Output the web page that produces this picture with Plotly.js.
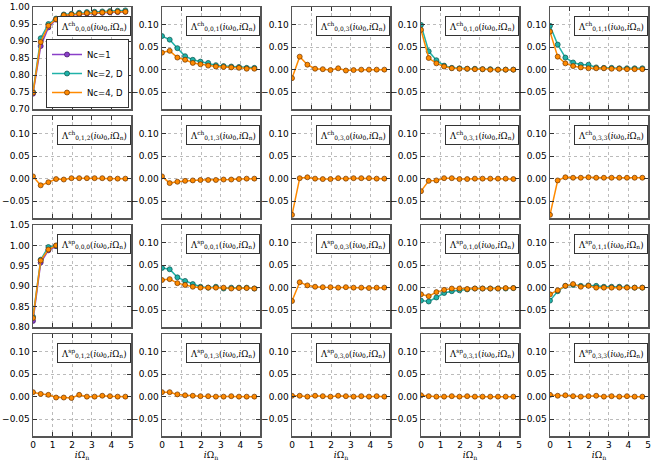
<!DOCTYPE html>
<html>
<head>
<meta charset="utf-8">
<script src="https://cdn.plot.ly/plotly-3.0.1.min.js"></script>
<style>html,body{margin:0;padding:0;background:#fff;}#chart{width:656px;height:464px;}</style>
</head>
<body>
<div id="chart"></div>
<script>
// Bosonic Matsubara frequencies (x values)
const omegaN = [0, 0.393, 0.785, 1.178, 1.571, 1.963, 2.356, 2.749, 3.142, 3.534, 3.927, 4.320, 4.712];
const seriesNames = ['Nc=1', 'Nc=2, D', 'Nc=4, D'];

// Row 1 (charge)
const ch000_nc1 = [0.745, 0.885, 0.940, 0.963, 0.975, 0.977, 0.979, 0.981, 0.982, 0.983, 0.984, 0.985, 0.986];
const ch000_nc2 = [0.750, 0.908, 0.950, 0.966, 0.978, 0.980, 0.983, 0.985, 0.986, 0.987, 0.988, 0.989, 0.990];
const ch000_nc4 = [0.748, 0.897, 0.945, 0.964, 0.976, 0.978, 0.980, 0.982, 0.983, 0.984, 0.985, 0.986, 0.986];
const ch001_nc2 = [0.075, 0.067, 0.048, 0.030, 0.022, 0.018, 0.015, 0.010, 0.008, 0.007, 0.006, 0.004, 0.004];
const ch001_nc4 = [0.038, 0.042, 0.027, 0.022, 0.015, 0.012, 0.009, 0.007, 0.006, 0.005, 0.004, 0.002, 0.002];
const ch003_nc4 = [-0.019, 0.029, 0.011, 0.002, 0.001, -0.001, 0.003, -0.002, -0.001, 0.000, 0.000, 0.000, 0.000];
const ch010_nc2 = [0.100, 0.041, 0.021, 0.009, 0.004, 0.003, 0.002, 0.002, 0.001, 0.001, 0.000, 0.000, 0.000];
const ch010_nc4 = [0.089, 0.026, 0.014, 0.007, 0.003, 0.002, 0.002, 0.001, 0.001, 0.000, 0.000, 0.000, 0.000];
const ch011_nc2 = [0.098, 0.056, 0.027, 0.016, 0.011, 0.011, 0.005, 0.004, 0.004, 0.003, 0.003, 0.003, 0.003];
const ch011_nc4 = [0.085, 0.029, 0.014, 0.008, 0.005, 0.003, 0.003, 0.003, 0.002, 0.002, 0.001, 0.001, 0.001];

// Row 2 (charge)
const ch012_nc4 = [0.005, -0.015, -0.008, -0.001, -0.002, 0.001, 0.001, 0.001, 0.001, 0.001, 0.000, 0.000, 0.000];
const ch013_nc4 = [0.005, -0.010, -0.007, -0.005, -0.004, -0.003, -0.003, -0.003, -0.002, -0.002, -0.001, 0.000, 0.000];
const ch030_nc4 = [-0.081, 0.001, 0.003, 0.000, -0.001, -0.001, 0.001, 0.000, 0.001, 0.001, 0.001, 0.000, 0.000];
const ch031_nc4 = [-0.028, -0.005, -0.004, 0.001, 0.001, -0.001, -0.001, 0.000, 0.000, 0.000, 0.000, 0.000, -0.001];
const ch033_nc4 = [-0.081, -0.004, 0.003, 0.002, 0.002, 0.003, 0.002, 0.002, 0.002, 0.002, 0.002, 0.002, 0.002];

// Row 3 (spin)
const sp000_nc1 = [0.815, 0.958, 0.988, 0.998, 1.000, 0.999, 0.998, 0.997, 0.996, 0.995, 0.994, 0.993, 0.992];
const sp000_nc2 = [0.825, 0.965, 0.996, 0.999, 1.000, 0.999, 0.998, 0.997, 0.996, 0.995, 0.995, 0.994, 0.993];
const sp000_nc4 = [0.822, 0.963, 0.990, 1.000, 1.000, 0.999, 0.998, 0.997, 0.996, 0.995, 0.994, 0.993, 0.992];
const sp001_nc2 = [0.044, 0.041, 0.023, 0.015, 0.008, 0.002, 0.000, 0.002, -0.002, 0.000, 0.000, 0.000, -0.002];
const sp001_nc4 = [0.017, 0.019, 0.010, 0.006, 0.002, 0.000, 0.000, 0.000, 0.000, -0.002, -0.001, -0.001, -0.002];
const sp003_nc4 = [-0.030, 0.012, 0.005, 0.002, 0.001, 0.001, 0.000, 0.001, 0.000, 0.000, -0.001, 0.000, 0.000];
const sp010_nc2 = [-0.029, -0.031, -0.022, -0.012, -0.008, -0.006, -0.004, -0.002, -0.002, -0.002, -0.002, -0.002, -0.001];
const sp010_nc4 = [-0.015, -0.019, -0.010, -0.005, -0.002, -0.002, -0.003, -0.002, -0.002, -0.002, -0.002, -0.001, -0.001];
const sp011_nc2 = [-0.029, -0.008, 0.004, 0.006, 0.004, 0.005, 0.004, 0.002, 0.002, 0.002, 0.001, 0.000, 0.000];
const sp011_nc4 = [-0.015, -0.006, 0.004, 0.008, 0.002, 0.004, 0.000, 0.000, 0.000, 0.000, 0.000, 0.000, 0.000];

// Row 4 (spin)
const sp012_nc4 = [0.010, 0.006, 0.004, -0.002, -0.002, -0.003, 0.004, 0.000, 0.000, 0.002, 0.001, 0.000, 0.000];
const sp013_nc4 = [0.010, 0.010, 0.005, 0.003, 0.002, 0.001, 0.001, 0.000, 0.000, 0.001, 0.000, 0.000, 0.000];
const sp030_nc4 = [0.002, 0.002, 0.000, 0.002, 0.001, 0.000, 0.002, 0.001, 0.000, 0.001, 0.000, 0.001, 0.000];
const sp031_nc4 = [0.003, 0.001, 0.000, 0.000, 0.001, 0.000, 0.001, 0.000, 0.000, 0.000, 0.000, 0.000, 0.000];
const sp033_nc4 = [0.004, 0.002, 0.003, 0.001, 0.000, 0.001, 0.002, 0.000, 0.001, 0.000, 0.001, 0.000, 0.000];

// Tick values / labels
const xTicks = [0, 1, 2, 3, 4, 5];
const smallRange = [-0.088, 0.14];
const smallTicks = [-0.05, 0.00, 0.05, 0.10];
const smallTickText = ['\u2009\u22120.05', '0.00', '0.05', '0.10'];
const ch000Ticks = [0.70, 0.75, 0.80, 0.85, 0.90, 0.95, 1.00];
const ch000TickText = ['0.70', '0.75', '0.80', '0.85', '0.90', '0.95', '1.00'];
const sp000Ticks = [0.80, 0.85, 0.90, 0.95, 1.00, 1.05];
const sp000TickText = ['0.80', '0.85', '0.90', '0.95', '1.00', '1.05'];

const panels = [
  {ch:'ch', idx:'0,0,0', s:[ch000_nc1, ch000_nc2, ch000_nc4], yr:[0.70,1.00], yt:ch000Ticks, ytt:ch000TickText},
  {ch:'ch', idx:'0,0,1', s:[null, ch001_nc2, ch001_nc4]},
  {ch:'ch', idx:'0,0,3', s:[null, null, ch003_nc4]},
  {ch:'ch', idx:'0,1,0', s:[null, ch010_nc2, ch010_nc4]},
  {ch:'ch', idx:'0,1,1', s:[null, ch011_nc2, ch011_nc4]},
  {ch:'ch', idx:'0,1,2', s:[null, null, ch012_nc4]},
  {ch:'ch', idx:'0,1,3', s:[null, null, ch013_nc4]},
  {ch:'ch', idx:'0,3,0', s:[null, null, ch030_nc4]},
  {ch:'ch', idx:'0,3,1', s:[null, null, ch031_nc4]},
  {ch:'ch', idx:'0,3,3', s:[null, null, ch033_nc4]},
  {ch:'sp', idx:'0,0,0', s:[sp000_nc1, sp000_nc2, sp000_nc4], yr:[0.80,1.05], yt:sp000Ticks, ytt:sp000TickText},
  {ch:'sp', idx:'0,0,1', s:[null, sp001_nc2, sp001_nc4]},
  {ch:'sp', idx:'0,0,3', s:[null, null, sp003_nc4]},
  {ch:'sp', idx:'0,1,0', s:[null, sp010_nc2, sp010_nc4]},
  {ch:'sp', idx:'0,1,1', s:[null, sp011_nc2, sp011_nc4]},
  {ch:'sp', idx:'0,1,2', s:[null, null, sp012_nc4]},
  {ch:'sp', idx:'0,1,3', s:[null, null, sp013_nc4]},
  {ch:'sp', idx:'0,3,0', s:[null, null, sp030_nc4]},
  {ch:'sp', idx:'0,3,1', s:[null, null, sp031_nc4]},
  {ch:'sp', idx:'0,3,3', s:[null, null, sp033_nc4]}
];

const W = 656, H = 464;
const colPx = [[33,131],[162,260],[292,390],[421,519],[550,648]];
const rowPx = [[7,109],[116,218],[225,327],[334,436]];
const lineColors = ['#8a3fc8', '#20b2a8', '#ff8a00'];
const edgeColors = ['#3d1563', '#0b504b', '#6b3400'];

const traces = [];
const layout = {
  width: W, height: H,
  margin: {l:0, r:0, t:0, b:0},
  paper_bgcolor: '#fff', plot_bgcolor: '#fff',
  font: {family: 'DejaVu Sans', size: 9, color: '#000'},
  showlegend: true,
  legend: {
    x: 129/W, y: 1 - 108/H, xanchor: 'right', yanchor: 'bottom',
    bgcolor: '#fff', bordercolor: '#333', borderwidth: 1,
    font: {family: 'DejaVu Sans', size: 8.5},
    itemwidth: 30, tracegroupgap: 0
  },
  annotations: [],
  hovermode: false
};

panels.forEach((p, i) => {
  const r = Math.floor(i / 5), c = i % 5;
  const n = i + 1;
  const xa = n === 1 ? 'xaxis' : 'xaxis' + n;
  const ya = n === 1 ? 'yaxis' : 'yaxis' + n;
  const xr = n === 1 ? 'x' : 'x' + n;
  const yr = n === 1 ? 'y' : 'y' + n;
  const bottomRow = (r === 3);
  layout[xa] = {
    domain: [colPx[c][0]/W, colPx[c][1]/W],
    anchor: yr, range: [0, 5], tickvals: xTicks,
    ticks: 'inside', ticklen: 4, tickcolor: '#333', mirror: 'ticks',
    showline: true, linecolor: '#555', linewidth: 1.5,
    showgrid: true, gridcolor: '#aaaaaa', griddash: 'dot', gridwidth: 0.8,
    zeroline: false, showticklabels: bottomRow,
    tickfont: {family: 'DejaVu Sans', size: 9, color: '#000'}, fixedrange: true
  };
  if (bottomRow) {
    layout[xa].title = {text: '<i>i</i>Ω<sub>n</sub>', font: {family: 'DejaVu Serif', size: 9}, standoff: 2};
  }
  layout[ya] = {
    domain: [1 - rowPx[r][1]/H, 1 - rowPx[r][0]/H],
    anchor: xr, range: p.yr || smallRange,
    tickmode: 'array', tickvals: p.yt || smallTicks, ticktext: p.ytt || smallTickText,
    ticks: 'inside', ticklen: 4, tickcolor: '#333', mirror: 'ticks',
    showline: true, linecolor: '#555', linewidth: 1.5,
    showgrid: true, gridcolor: '#aaaaaa', griddash: 'dot', gridwidth: 0.8,
    zeroline: false, tickfont: {family: 'DejaVu Sans', size: 9, color: '#000'}, fixedrange: true,
    ticklabeloverflow: 'allow'
  };
  p.s.forEach((vals, k) => {
    if (!vals) return;
    traces.push({
      type: 'scatter', mode: 'lines+markers',
      x: omegaN, y: vals, xaxis: xr, yaxis: yr,
      name: seriesNames[k], legendgroup: seriesNames[k],
      showlegend: i === 0,
      line: {color: lineColors[k], width: 1.5},
      marker: {color: lineColors[k], size: 5, line: {color: edgeColors[k], width: 0.7}},
      cliponaxis: true
    });
  });
  layout.annotations.push({
    xref: xr + ' domain', yref: yr + ' domain',
    x: 0.62, y: 0.81, xanchor: 'center', yanchor: 'middle',
    text: 'Λ<sup>' + p.ch + '</sup><sub>' + p.idx + '</sub>(<i>i</i>ω<sub>0</sub>,<i>i</i>Ω<sub>n</sub>)',
    showarrow: false, bgcolor: '#fff', bordercolor: '#333', borderwidth: 1, borderpad: 3,
    font: {family: 'DejaVu Serif', size: 8.5, color: '#000'}
  });
});

Plotly.newPlot('chart', traces, layout, {staticPlot: true, displayModeBar: false});
</script>
</body>
</html>
